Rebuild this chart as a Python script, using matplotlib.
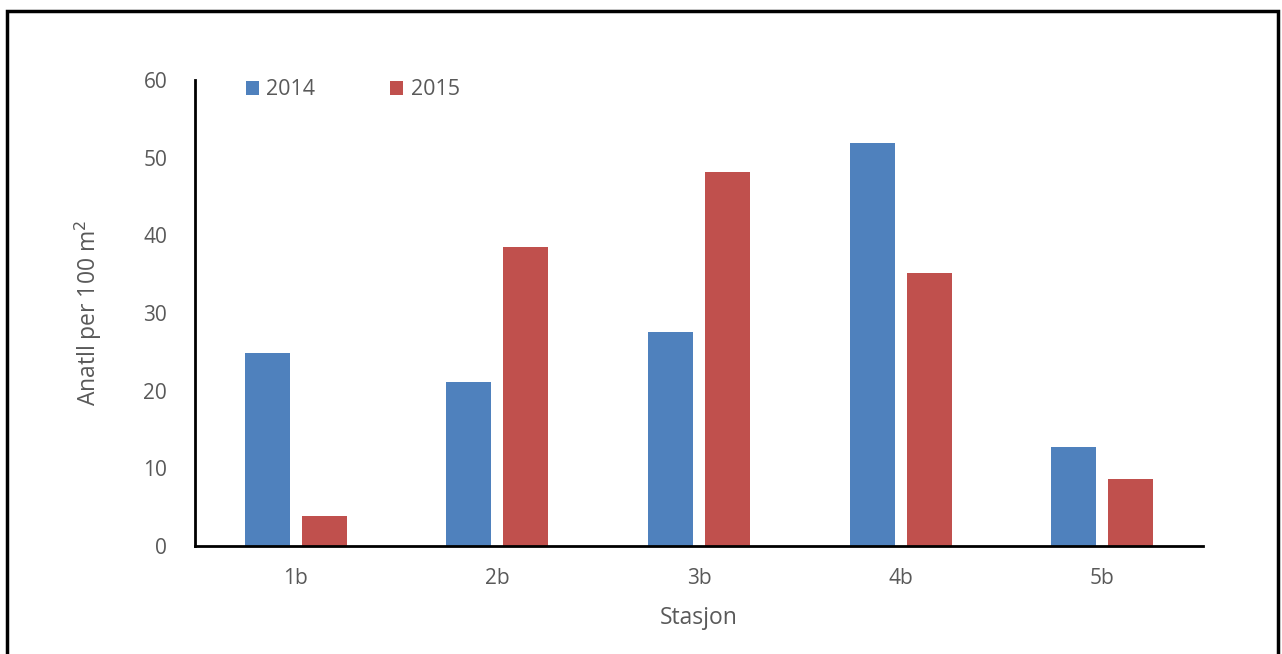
import matplotlib
matplotlib.use("Agg")
import matplotlib.pyplot as plt
from matplotlib.patches import Rectangle
import numpy as np

stations = ["1b", "2b", "3b", "4b", "5b"]
vals_2014 = [24.8, 21.1, 27.6, 51.9, 12.7]
vals_2015 = [3.8, 38.5, 48.1, 35.2, 8.6]
series_labels = ["2014", "2015"]
yticks = [0, 10, 20, 30, 40, 50, 60]

blue = "#4f81bd"
red = "#c0504d"
grey = "#595959"

plt.rcParams["font.family"] = ["Open Sans", "DejaVu Sans"]

fig = plt.figure(figsize=(12.82, 6.54), dpi=100)
ax = fig.add_axes([195 / 1282, 108 / 654, 1008 / 1282, 466 / 654])

x = np.arange(len(stations))
w = 0.223
off = 0.141
ax.bar(x - off, vals_2014, w, color=blue, label=series_labels[0])
ax.bar(x + off, vals_2015, w, color=red, label=series_labels[1])

ax.set_xlim(-0.5, len(stations) - 0.5)
ax.set_ylim(0, 60)
ax.set_yticks(yticks)
ax.set_xticks(x)
ax.set_xticklabels(stations)
ax.tick_params(length=0, labelsize=15, labelcolor=grey)
ax.tick_params(axis="y", pad=20)
ax.tick_params(axis="x", pad=16)

for s in ["top", "right"]:
    ax.spines[s].set_visible(False)
ax.spines["left"].set_linewidth(2)
ax.spines["bottom"].set_linewidth(2)

ax.set_xlabel("Stasjon", fontsize=16.5, color=grey, labelpad=12)
ax.set_ylabel("Anatll per 100 m$^2$", fontsize=16.5, color=grey, labelpad=28)

leg = ax.legend(loc="upper left", bbox_to_anchor=(0.031, 1.043), ncol=2, frameon=False,
                fontsize=15.5, handlelength=0.6, handleheight=0.6,
                handletextpad=0.35, columnspacing=3.5)
for t in leg.get_texts():
    t.set_color(grey)

fig.patches.append(Rectangle((7 / 1282, -0.05), 1271 / 1282, 1.05 - 11 / 654,
                             transform=fig.transFigure, fill=False,
                             edgecolor="black", linewidth=2.5))

fig.savefig("out.png", dpi=100)
